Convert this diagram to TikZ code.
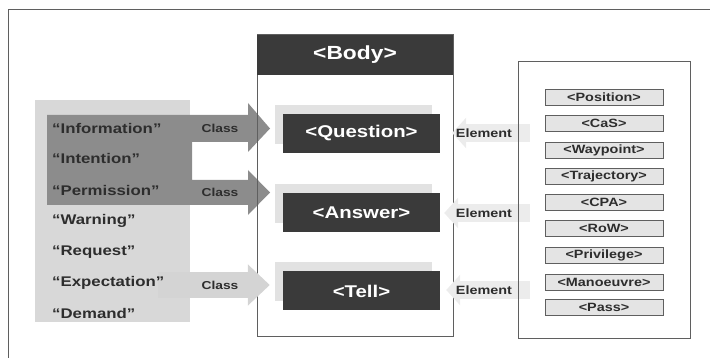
\documentclass[tikz,border=0pt]{standalone}
\usepackage{fontspec}
\setmainfont[FakeStretch=1.2]{Liberation Sans}
\usetikzlibrary{arrows.meta,shadows}

\definecolor{boxgray}{RGB}{58,58,58}
\definecolor{textgray}{RGB}{45,45,45}
\definecolor{panelgray}{RGB}{216,216,216}
\definecolor{arrowdark}{RGB}{140,140,140}
\definecolor{arrowmid}{RGB}{212,212,212}
\definecolor{arrowlight}{RGB}{236,236,236}
\definecolor{itemgray}{RGB}{228,228,228}
\definecolor{edgegray}{RGB}{95,95,95}
\definecolor{shadegray}{RGB}{226,226,226}

\tikzset{
  msgbox/.style={fill=boxgray, text=white, inner sep=0pt,
    font=\bfseries\fontsize{17}{19}\selectfont,
    minimum width=157pt, minimum height=39pt,
    drop shadow={shadow xshift=-8pt, shadow yshift=9pt, fill=shadegray, opacity=1}},
  kindtext/.style={anchor=west, inner sep=0pt, text=textgray,
    font=\bfseries\fontsize{14}{16}\selectfont},
  classtext/.style={inner sep=0pt, text=textgray,
    font=\bfseries\fontsize{11.5}{13}\selectfont},
  elemtext/.style={inner sep=0pt, text=textgray,
    font=\bfseries\fontsize{12}{14}\selectfont},
  elembox/.style={draw=edgegray, line width=0.8pt, fill=itemgray, inner sep=0pt,
    minimum width=118pt, minimum height=16pt, text=textgray,
    font=\bfseries\fontsize{12}{13}\selectfont},
  classarrow/.style={draw=arrowmid, line width=26pt, -{Triangle[width=40pt,length=22pt]}},
  elemarrow/.style={draw=arrowlight, line width=18pt, -{Triangle[width=30pt,length=14pt]}},
}

\begin{document}
\begin{tikzpicture}[x=1pt,y=-1pt]
\useasboundingbox (0,0) rectangle (710,358);
\clip (0,0) rectangle (710,358);

% Drawing outer frame
\draw [edgegray, line width=1pt] (8,370) -- (8,10) -- (720,10);

% Drawing panel of kinds
\fill [panelgray] (35,100) rectangle (190,322);

% Drawing double class arrow
\fill [arrowdark] (47,115) -- (248,115) -- (248,103) -- (270,128.5) -- (248,152)
  -- (248,142) -- (192,142) -- (192,180) -- (248,180) -- (248,170) -- (270,192.5)
  -- (248,215) -- (248,205) -- (47,205) -- cycle;

% Drawing body
\node (bodybox) [draw=edgegray, line width=1pt, minimum width=196pt, minimum height=301pt,
  inner sep=0pt] at (355,185.5) {};
\node (body) [fill=boxgray, text=white, inner sep=0pt, minimum width=196pt, minimum height=40pt,
  font=\bfseries\fontsize{19}{21}\selectfont] at (355,55) {<Body>};

% Drawing message boxes
\node (question) [msgbox] at (361.5,133.5) {<Question>};
\node (answer) [msgbox] at (361.5,212.5) {<Answer>};
\node (tell) [msgbox] at (361.5,291) {<Tell>};

% Drawing third class arrow
\coordinate (classtail) at (158,285);
\draw [classarrow] (classtail) -- ([xshift=-13pt]tell.west |- classtail);

% Marking kinds
\node (info) [kindtext] at (52,128) {``Information''};
\node (intent) [kindtext] at (52,158) {``Intention''};
\node (permit) [kindtext] at (52,190) {``Permission''};
\node (warn) [kindtext] at (52,221) {``Warning''};
\node (request) [kindtext] at (52,252) {``Request''};
\node (expect) [kindtext] at (52,283) {``Expectation''};
\node (demand) [kindtext] at (52,313) {``Demand''};

% Marking class labels
\node (classq) [classtext] at (220,128) {Class};
\node (classa) [classtext] at (220,192) {Class};
\node (classt) [classtext] at (220,285) {Class};

% Drawing element arrows
\coordinate (qtail) at (530,133);
\coordinate (atail) at (530,213);
\coordinate (ttail) at (530,290);
\draw [elemarrow] (qtail) -- ([xshift=12pt]question.east |- qtail);
\draw [elemarrow] (atail) -- ([xshift=4pt]answer.east |- atail);
\draw [elemarrow] (ttail) -- ([xshift=6pt]tell.east |- ttail);

% Marking element labels
\node (elemq) [elemtext] at (484,133) {Element};
\node (elema) [elemtext] at (484,213) {Element};
\node (elemt) [elemtext] at (484,290) {Element};

% Drawing element panel
\node (elements) [draw=edgegray, line width=1pt, minimum width=172pt, minimum height=276pt,
  inner sep=0pt] at (604,200) {};
\node (pos) [elembox] at (604,97) {<Position>};
\node (cas) [elembox] at (604,123) {<CaS>};
\node (wpt) [elembox] at (604,150) {<Waypoint>};
\node (traj) [elembox] at (604,176) {<Trajectory>};
\node (cpa) [elembox] at (604,202) {<CPA>};
\node (row) [elembox] at (604,228) {<RoW>};
\node (priv) [elembox] at (604,255) {<Privilege>};
\node (man) [elembox] at (604,282) {<Manoeuvre>};
\node (pass) [elembox] at (604,307) {<Pass>};
\end{tikzpicture}
\end{document}
